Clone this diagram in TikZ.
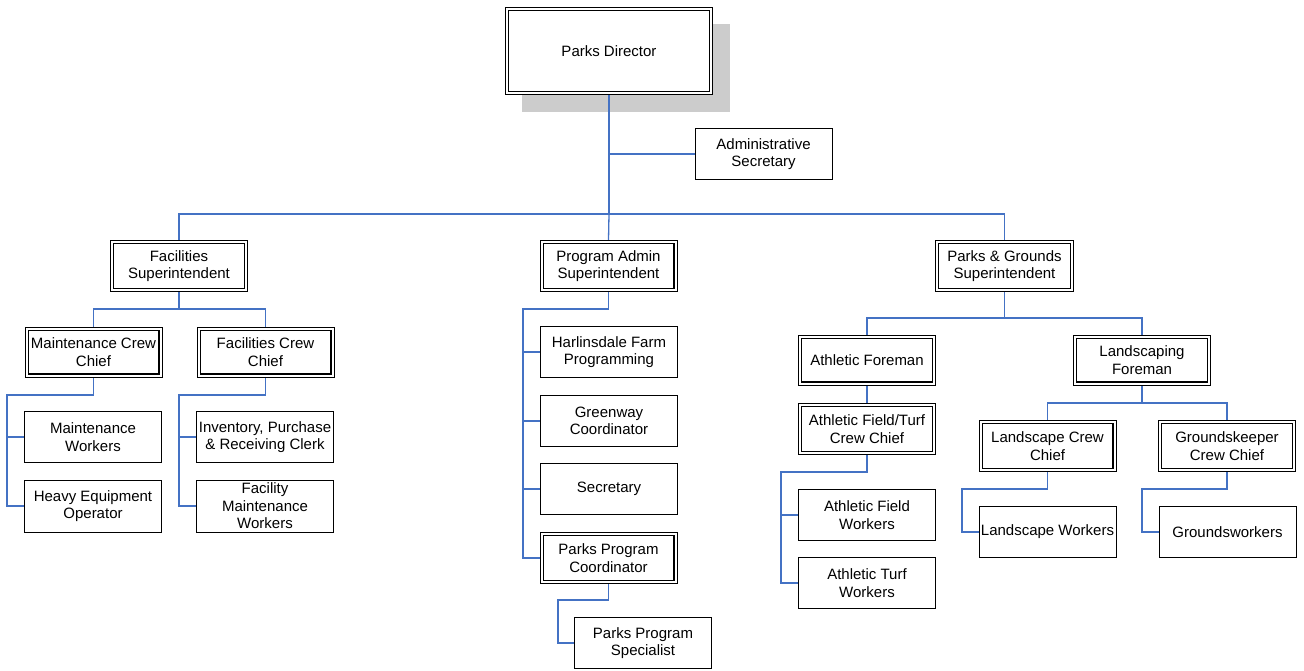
\documentclass[tikz,border=0pt]{standalone}
\usepackage{fontspec}
\setmainfont{Liberation Sans}
\usetikzlibrary{backgrounds}
\definecolor{linkblue}{RGB}{68,114,196}
\definecolor{shadowgray}{RGB}{204,204,204}
\tikzset{
  box/.style={draw=black, line width=0.9pt, fill=white, align=center, inner sep=0pt,
    font=\fontsize{15}{17.6}\selectfont, minimum width=137pt, minimum height=51pt},
  dbox/.style={box, path picture={
      \draw[line width=1.4pt]
        ([shift={(3.2pt,-3.2pt)}]path picture bounding box.north west) rectangle
        ([shift={(-3.2pt,3.2pt)}]path picture bounding box.south east);}},
  link/.style={draw=linkblue, line width=1.3pt},
}
\begin{document}
\begin{tikzpicture}[x=1pt, y=-1pt]
\useasboundingbox (0,0) rectangle (1304,670);

% top of the chart
\node[dbox, minimum width=207pt, minimum height=87pt] (dir) at (609,51) {Parks Director};
\begin{scope}[on background layer]
  \fill[shadowgray] ([shift={(17,17)}]dir.south west) rectangle ([shift={(17,17)}]dir.north east);
\end{scope}
\node[box] (adm) at (763.5,154) {Administrative\\Secretary};

% superintendents
\node[dbox] (fs)  at (179,266)    {Facilities\\Superintendent};
\node[dbox] (pas) at (608.5,266)  {Program Admin\\Superintendent};
\node[dbox, minimum width=138pt] (pgs) at (1004.5,266) {Parks \& Grounds\\Superintendent};

% facilities branch
\node[dbox, minimum height=50pt] (mcc) at (93.5,352)  {Maintenance Crew\\Chief};
\node[dbox, minimum height=50pt] (fcc) at (265.5,352) {Facilities Crew\\Chief};
\node[box] (mw)  at (93,437)  {Maintenance\\Workers};
\node[box, minimum height=52pt] (heo) at (93,506)  {Heavy Equipment\\Operator};
\node[box] (ipr) at (265,437) {Inventory, Purchase\\\& Receiving Clerk};
\node[box, minimum height=52pt] (fmw) at (265,506) {Facility\\Maintenance\\Workers};

% program admin branch
\node[box] (hfp) at (609,352)   {Harlinsdale Farm\\Programming};
\node[box] (gc)  at (609,421)   {Greenway\\Coordinator};
\node[box] (sec) at (609,489) {Secretary};
\node[dbox] (ppc) at (608.5,558) {Parks Program\\Coordinator};
\node[box] (pps) at (643,643) {Parks Program\\Specialist};

% parks & grounds branch
\node[dbox, minimum height=50pt] (af)   at (867,360)    {Athletic Foreman};
\node[dbox] (aftc) at (867,429)  {Athletic Field/Turf\\Crew Chief};
\node[box] (afw) at (867,515)   {Athletic Field\\Workers};
\node[box] (atw) at (867,583) {Athletic Turf\\Workers};
\node[dbox, minimum height=50pt] (lf)   at (1142,360)   {Landscaping\\Foreman};
\node[dbox] (lcc)  at (1047.5,446) {Landscape Crew\\Chief};
\node[dbox] (gcc)  at (1227,446) {Groundskeeper\\Crew Chief};
\node[box] (lw) at (1047.5,532) {Landscape Workers};
\node[box] (gw) at (1227.5,532) {Groundsworkers};

% bus points of the connectors
\coordinate (topbus) at (609,214);
\coordinate (fsbus)  at (179,309);
\coordinate (mccbus) at (7,395);
\coordinate (fccbus) at (179,395);
\coordinate (pasbus) at (523,309);
\coordinate (ppcbus) at (558,600);
\coordinate (pgsbus) at (1004.5,318);
\coordinate (aftcbus) at (781,472);
\coordinate (lfbus)  at (1142,403);
\coordinate (lccbus) at (962,489);
\coordinate (gccbus) at (1142,489);

\begin{scope}[on background layer]
% director level
\draw[link] (dir.south) -- (topbus);
\draw[link] (dir.south |- adm.west) -- (adm.west);
\draw[link] (fs.north) |- (topbus) -| (pgs.north);
\draw[link] (topbus) -- (pas.north);

% facilities
\draw[link] (fs.south) -- (fsbus);
\draw[link] (mcc.north) |- (fsbus) -| (fcc.north);
\draw[link] (mcc.south) |- (mccbus) |- (mw.west);
\draw[link] (mccbus) |- (heo.west);
\draw[link] (fcc.south) |- (fccbus) |- (ipr.west);
\draw[link] (fccbus) |- (fmw.west);

% program admin
\draw[link] (pas.south) |- (pasbus) |- (ppc.west);
\draw[link] (pasbus) |- (hfp.west);
\draw[link] (pasbus) |- (gc.west);
\draw[link] (pasbus) |- (sec.west);
\draw[link] (ppc.south) |- (ppcbus) |- (pps.west);

% parks & grounds
\draw[link] (pgs.south) -- (pgsbus);
\draw[link] (af.north) |- (pgsbus) -| (lf.north);
\draw[link] (af.south) -- (aftc.north);
\draw[link] (aftc.south) |- (aftcbus) |- (afw.west);
\draw[link] (aftcbus) |- (atw.west);
\draw[link] (lf.south) -- (lfbus);
\draw[link] (lcc.north) |- (lfbus) -| (gcc.north);
\draw[link] (lcc.south) |- (lccbus) |- (lw.west);
\draw[link] (gcc.south) |- (gccbus) |- (gw.west);
\end{scope}
\end{tikzpicture}
\end{document}
